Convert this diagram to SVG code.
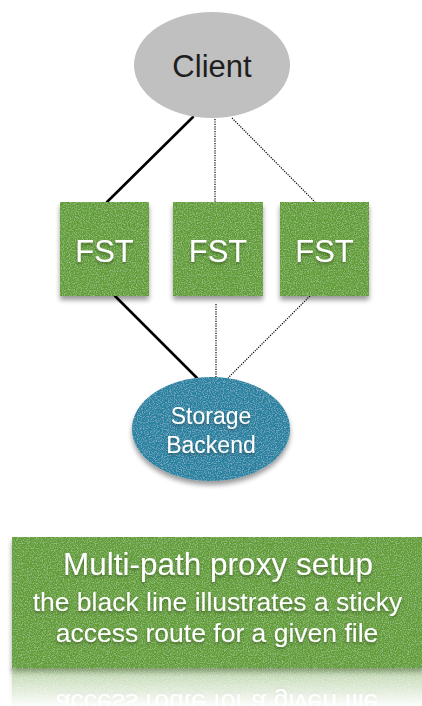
<svg xmlns="http://www.w3.org/2000/svg" xmlns:xlink="http://www.w3.org/1999/xlink" width="422" height="706" viewBox="0 0 422 706">
  <style>
    .lbl { font-family: "Liberation Sans", Arial, sans-serif; text-anchor: middle; }
    .wt { fill: #ffffff; }
    .fst { fill: #6ca840; }
    .solid { stroke: #000000; stroke-width: 2.6; fill: none; stroke-linecap: round; }
    .dot { stroke: #000000; stroke-width: 1.2; fill: none; stroke-dasharray: 1.2 1.2; }
  </style>
  <defs>
    <!-- grainy fill texture plus soft shadow underneath -->
    <filter id="grain" x="-10%" y="-10%" width="120%" height="130%">
      <feTurbulence type="fractalNoise" baseFrequency="0.85" numOctaves="2" seed="3" result="noise"/>
      <feColorMatrix in="noise" type="matrix" values="0 0 0 0 0  0 0 0 0 0  0 0 0 0 0  0 0 0 0.6 -0.22" result="dark"/>
      <feComposite in="dark" in2="SourceAlpha" operator="in" result="speck"/>
      <feColorMatrix in="noise" type="matrix" values="0 0 0 0 1  0 0 0 0 1  0 0 0 0 1  0 0 0 -0.6 0.32" result="light"/>
      <feComposite in="light" in2="SourceAlpha" operator="in" result="glint"/>
      <feGaussianBlur in="SourceAlpha" stdDeviation="2.5" result="blur"/>
      <feOffset in="blur" dx="0" dy="4" result="off"/>
      <feComponentTransfer in="off" result="shadow">
        <feFuncA type="linear" slope="0.4"/>
      </feComponentTransfer>
      <feMerge>
        <feMergeNode in="shadow"/>
        <feMergeNode in="SourceGraphic"/>
        <feMergeNode in="speck"/>
        <feMergeNode in="glint"/>
      </feMerge>
    </filter>
    <filter id="tshadow" x="-10%" y="-20%" width="120%" height="160%">
      <feDropShadow dx="0" dy="2" stdDeviation="1.5" flood-color="#000" flood-opacity="0.35"/>
    </filter>
    <linearGradient id="fadeGrad" x1="0" y1="668" x2="0" y2="706" gradientUnits="userSpaceOnUse">
      <stop offset="0" stop-color="#fff" stop-opacity="0.45"/>
      <stop offset="1" stop-color="#fff" stop-opacity="0.02"/>
    </linearGradient>
    <mask id="fade" maskUnits="userSpaceOnUse" x="0" y="668" width="422" height="40">
      <rect x="0" y="668" width="422" height="40" fill="url(#fadeGrad)"/>
    </mask>
  </defs>

  <rect width="422" height="706" fill="#ffffff"/>

  <!-- connectors -->
  <g id="connectors">
    <line class="solid" x1="193" y1="117" x2="107" y2="202"/>
    <line class="dot" x1="215" y1="119" x2="215" y2="202"/>
    <line class="dot" x1="232" y1="118" x2="315" y2="202"/>
    <line class="solid" x1="115" y1="296" x2="197" y2="378"/>
    <line class="dot" x1="216" y1="304" x2="216" y2="378"/>
    <line class="dot" x1="310" y1="296" x2="228" y2="378"/>
  </g>

  <g id="client">
    <ellipse cx="212" cy="65" rx="78" ry="53" fill="#c0c0c0"/>
    <text class="lbl" x="212" y="77" font-size="31" fill="#1e1e1e">Client</text>
  </g>

  <g id="fst1">
    <rect class="fst" x="60" y="202" width="89" height="94" filter="url(#grain)"/>
    <text class="lbl wt" x="104.5" y="262" font-size="31" filter="url(#tshadow)">FST</text>
  </g>
  <g id="fst2">
    <rect class="fst" x="173" y="202" width="90" height="94" filter="url(#grain)"/>
    <text class="lbl wt" x="218" y="262" font-size="31" filter="url(#tshadow)">FST</text>
  </g>
  <g id="fst3">
    <rect class="fst" x="280" y="202" width="89" height="94" filter="url(#grain)"/>
    <text class="lbl wt" x="324.5" y="262" font-size="31" filter="url(#tshadow)">FST</text>
  </g>

  <g id="storage">
    <ellipse cx="211" cy="429" rx="79" ry="52" fill="#2f8bab" filter="url(#grain)"/>
    <text class="lbl wt" x="211" y="424" font-size="23" filter="url(#tshadow)">Storage</text>
    <text class="lbl wt" x="211" y="453" font-size="23" filter="url(#tshadow)">Backend</text>
  </g>

  <g id="caption">
    <rect class="fst" x="12" y="537" width="412" height="131" filter="url(#grain)"/>
    <text class="lbl wt" x="218" y="575" font-size="31.5" filter="url(#tshadow)">Multi-path proxy setup</text>
    <text class="lbl wt" x="217.5" y="611" font-size="26.5" filter="url(#tshadow)">the black line illustrates a sticky</text>
    <text class="lbl wt" x="217" y="642" font-size="26.5" filter="url(#tshadow)">access route for a given file</text>
  </g>

  <!-- mirrored copy of the caption fading out below it -->
  <g id="caption-reflection" mask="url(#fade)">
    <use xlink:href="#caption" transform="translate(0,1336) scale(1,-1)"/>
  </g>
</svg>
